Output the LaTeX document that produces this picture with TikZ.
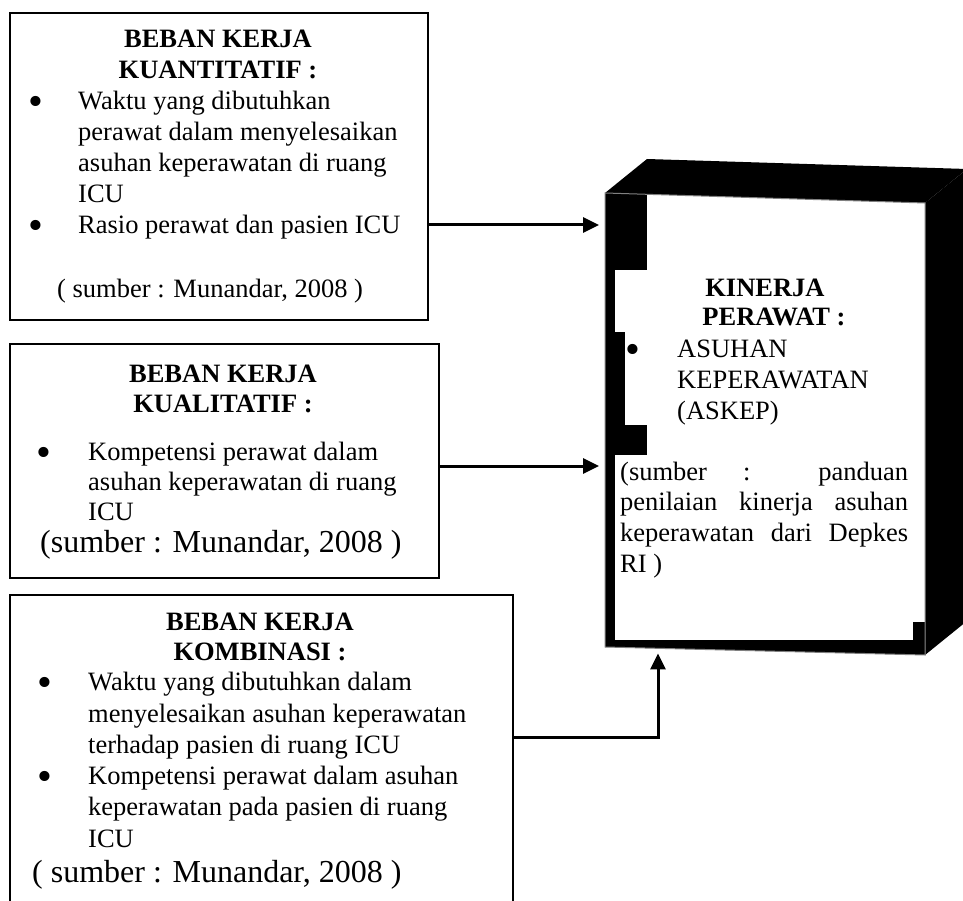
\documentclass[tikz,border=0pt]{standalone}
\usepackage{fontspec}
\usepackage{graphicx}
\setmainfont{Liberation Serif}
\usetikzlibrary{arrows.meta}
\newcommand{\bigbul}{\raisebox{-6pt}{\scalebox{1.6}{•}}}
\tikzset{
  box/.style={draw=black, line width=2pt, fill=white, inner sep=0pt, anchor=north west},
  tx/.style={font=\fontsize{26.5}{31}\selectfont, inner sep=0pt, anchor=base west},
  hd/.style={font=\fontsize{26.5}{31}\selectfont\bfseries, inner sep=0pt, anchor=base},
  bul/.style={font=\fontsize{26.5}{31}\selectfont, inner sep=0pt, anchor=base},
  big/.style={font=\fontsize{32}{36}\selectfont, inner sep=0pt, anchor=base west},
  arr/.style={line width=3pt, -{Triangle[length=16pt,width=15pt]}},
  frame/.style={draw=gray, line width=1pt}
}
\begin{document}
\begin{tikzpicture}[x=1pt,y=-1pt]
\useasboundingbox (0,0) rectangle (963,901);
\fill[white] (0,0) rectangle (963,901);

% ---------- box 1
\node[box, minimum width=418pt, minimum height=307pt] (b1) at (9,12) {};
\node[hd] (b1h1) at (218,48) {BEBAN KERJA};
\node[hd] (b1h2) at (218,79) {KUANTITATIF :};
\node[bul] (b1d1) at (36,110) {\bigbul};
\node[tx] (b1l1) at (78,110) {Waktu yang dibutuhkan};
\node[tx] (b1l2) at (78,141) {perawat dalam menyelesaikan};
\node[tx] (b1l3) at (78,172) {asuhan keperawatan di ruang};
\node[tx] (b1l4) at (78,203) {ICU};
\node[bul] (b1d2) at (36,234) {\bigbul};
\node[tx] (b1l5) at (78,234) {Rasio perawat dan pasien ICU};
\node[tx] (b1s) at (57,297) {( sumber : Munandar, 2008 )};

% ---------- box 2
\node[box, minimum width=429pt, minimum height=234pt] (b2) at (9,343) {};
\node[hd] (b2h1) at (223,382) {BEBAN KERJA};
\node[hd] (b2h2) at (223,412) {KUALITATIF :};
\node[bul] (b2d1) at (44,460) {\bigbul};
\node[tx] (b2l1) at (88,460) {Kompetensi perawat dalam};
\node[tx] (b2l2) at (88,490) {asuhan keperawatan di ruang};
\node[tx] (b2l3) at (88,520) {ICU};
\node[big] (b2s) at (40,552) {(sumber : Munandar, 2008 )};

% ---------- box 3
\node[box, minimum width=503pt, minimum height=320pt] (b3) at (9,594) {};
\node[hd] (b3h1) at (260,630) {BEBAN KERJA};
\node[hd] (b3h2) at (260,660) {KOMBINASI :};
\node[bul] (b3d1) at (45,690) {\bigbul};
\node[tx] (b3l1) at (88,690) {Waktu yang dibutuhkan dalam};
\node[tx] (b3l2) at (88,722) {menyelesaikan asuhan keperawatan};
\node[tx] (b3l3) at (88,753) {terhadap pasien di ruang ICU};
\node[bul] (b3d2) at (45,784) {\bigbul};
\node[tx] (b3l4) at (88,784) {Kompetensi perawat dalam asuhan};
\node[tx] (b3l5) at (88,815) {keperawatan pada pasien di ruang};
\node[tx] (b3l6) at (88,847) {ICU};
\node[big] (b3s) at (32,882) {( sumber : Munandar, 2008 )};

% ---------- cube (3D box)
\node[inner sep=0pt, minimum width=320pt, minimum height=454pt, anchor=north west] (cube) at (605,193) {};
\fill[black] (605,193) -- (647,159) -- (967,169) -- (925,203) -- cycle;
\fill[black] (925,203) -- (967,169) -- (967,621) -- (925,655) -- cycle;
\fill[white] (605,193) -- (925,203) -- (925,655) -- (605,647) -- cycle;
\fill[black] (605,193) rectangle (615,647);
\fill[black] (605,193) rectangle (647,270);
\fill[black] (605,332) rectangle (625,425);
\fill[black] (605,425) rectangle (647,455);
\fill[black] (605,640) -- (925,640) -- (925,655) -- (605,647) -- cycle;
\fill[black] (913,622) rectangle (925,640);
\draw[frame] (605,193) -- (925,203) -- (925,655) -- (605,647) -- cycle;

\node[hd] (ch1) at (765,296) {KINERJA};
\node[hd] (ch2) at (774,325) {PERAWAT :};
\node[bul] (cd1) at (633,357) {\bigbul};
\node[tx] (cl1) at (677,357) {ASUHAN};
\node[tx] (cl2) at (677,388) {KEPERAWATAN};
\node[tx] (cl3) at (677,419) {(ASKEP)};
\node[tx] (cs1) at (620,480) {\makebox[288pt][s]{(sumber : panduan}};
\node[tx] (cs2) at (620,510) {\makebox[288pt][s]{penilaian kinerja asuhan}};
\node[tx] (cs3) at (620,541) {\makebox[288pt][s]{keperawatan dari Depkes}};
\node[tx] (cs4) at (620,572) {RI )};

% ---------- connectors
\coordinate (k1) at (600,225);
\coordinate (k2) at (600,466);
\coordinate (k3) at (658,737);
\draw[arr, shorten >=6pt] (b1.east |- k1) -- (cube.west |- k1);
\draw[arr, shorten >=6pt] (b2.east |- k2) -- (cube.west |- k2);
\draw[arr, shorten >=6pt] (b3.east |- k3) -- (k3) -- (cube.south -| k3);
\end{tikzpicture}
\end{document}
